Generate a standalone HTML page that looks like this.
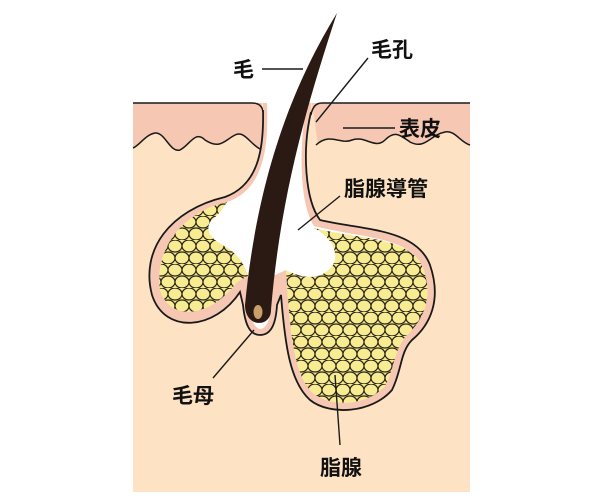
<!DOCTYPE html>
<html><head><meta charset="utf-8"><style>
html,body{margin:0;padding:0;background:#fff;}
svg{display:block}
text{font-family:"Liberation Sans","Noto Sans CJK JP",sans-serif;font-size:21px;font-weight:bold;fill:#111;}
</style></head><body>
<svg width="600" height="500" viewBox="0 0 600 500" xmlns="http://www.w3.org/2000/svg">
<defs>
<pattern id="cells" x="0" y="0" width="28" height="24" patternUnits="userSpaceOnUse">
<rect width="28" height="24" fill="#f6e98c"/>
<g fill="#f8ec92" stroke="#2a2418" stroke-width="1.2">
<ellipse cx="7" cy="6" rx="7" ry="6"/>
<ellipse cx="21" cy="6" rx="7" ry="6"/>
<ellipse cx="0" cy="18" rx="7" ry="6"/>
<ellipse cx="14" cy="18" rx="7" ry="6"/>
<ellipse cx="28" cy="18" rx="7" ry="6"/>
</g>
</pattern>
</defs>
<rect x="133" y="103" width="337" height="389" fill="#fde3c4"/>
<!-- epidermis left -->
<path d="M133,103 L262,103 L262,150 C250,145 245,130 235,135 C225,140 220,150 205,140 C195,130 190,145 180,150 C170,153 165,132 155,133 C145,135 140,145 133,148 Z" fill="#f6c7b2"/>
<path d="M133,148 C140,145 145,135 155,133 C165,132 170,153 180,150 C190,145 195,130 205,140 C220,150 225,140 235,135 C245,130 250,145 262,150 M133,103 L252,103 Q262,103 263,112" fill="none" stroke="#1a1a1a" stroke-width="1.5"/>
<!-- epidermis right -->
<path d="M312,103 L470,103 L470,145 C460,142 455,130 445,132 C430,135 425,150 410,142 C400,135 395,130 385,140 C375,150 365,135 352,140 C340,145 330,132 318,145 Z" fill="#f6c7b2"/>
<path d="M311,115 Q313,103 322,103 L470,103 M470,145 C460,142 455,130 445,132 C430,135 425,150 410,142 C400,135 395,130 385,140 C375,150 365,135 352,140 C340,145 330,132 316,145" fill="none" stroke="#1a1a1a" stroke-width="1.5"/>
<!-- outer -->
<path d="M263,110 C264,150 258,185 225,197 C170,210 140,250 152,295 C165,335 215,330 240,292 L243,305 C245,325 250,335 260,335 C272,335 276,322 277,305 L281,295 C285,345 290,382 310,400 C330,416 372,413 392,390 C402,370 400,352 412,340 C430,325 442,300 430,265 C416,228 362,230 320,220 C305,200 302,150 311,112 L311,103 L263,103 Z" fill="#f6c7b2"/>
<path d="M263,110 C264,150 258,185 225,197 C170,210 140,250 152,295 C165,335 215,330 240,292 L243,305 C245,325 250,335 260,335 C272,335 276,322 277,305 L281,295 C285,345 290,382 310,400 C330,416 372,413 392,390 C402,370 400,352 412,340 C430,325 442,300 430,265 C416,228 362,230 320,220 C305,200 302,150 311,112" fill="none" stroke="#1a1a1a" stroke-width="1.8"/>
<!-- inner -->
<path d="M267,103 C269,155 261,190 227,202 C178,214 155,252 160,290 C170,322 210,318 237,282 L248,276 C249,300 249,327 260,329 C272,329 272,300 273,276 L286,270 C290,330 293,376 314,394 C334,408 368,405 385,386 C395,368 394,348 407,335 C423,320 434,298 423,268 C410,236 360,238 314,226 C300,205 298,150 307,103 Z" fill="#ffffff"/>
<!-- left lobe yellow -->
<path d="M227,202 C178,214 155,252 160,290 C170,322 210,318 237,282 L248,276 C245,265 238,255 228,248 C212,240 205,232 210,222 C218,215 222,210 227,202 Z" fill="url(#cells)"/>
<!-- right lobe yellow -->
<path d="M314,228 C360,240 410,236 423,268 C434,298 423,320 407,335 C394,348 395,368 385,386 C368,405 334,408 314,394 C293,376 290,330 286,270 C305,280 322,280 333,265 C340,252 330,236 314,228 Z" fill="url(#cells)"/>
<!-- hair -->
<path d="M337,13 C296,80 258,170 245,305 C245,328 271,328 271,310 C280,200 305,110 337,13 Z" fill="#2b1a14"/>
<ellipse cx="258" cy="312" rx="4.5" ry="7" fill="#c9a06a"/>
<g stroke="#1a1a1a" stroke-width="1.4" fill="none">
<line x1="262" y1="69" x2="303" y2="69"/>
<line x1="368" y1="58" x2="316" y2="122"/>
<line x1="343" y1="128" x2="395" y2="128"/>
<line x1="340" y1="196" x2="298" y2="230"/>
<line x1="254" y1="330" x2="213" y2="378"/>
<line x1="335" y1="375" x2="340" y2="445"/>
</g>
<text x="233" y="77">毛</text>
<text x="371" y="57">毛孔</text>
<text x="399" y="136">表皮</text>
<text x="344" y="196">脂腺導管</text>
<text x="172" y="403">毛母</text>
<text x="320" y="475">脂腺</text>
</svg>
</body></html>
